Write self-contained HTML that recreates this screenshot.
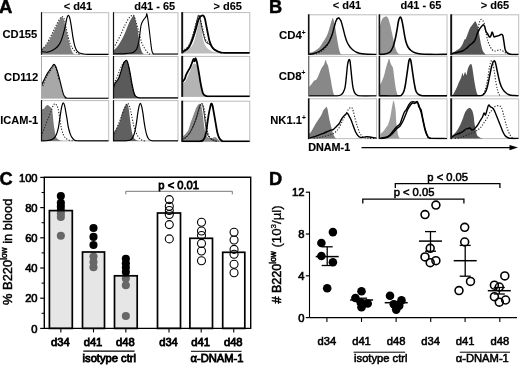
<!DOCTYPE html>
<html><head><meta charset="utf-8"><style>
html,body{margin:0;padding:0;background:#fff;width:520px;height:365px;overflow:hidden;}
svg{display:block;font-family:"Liberation Sans",sans-serif;will-change:transform;}
</style></head><body>
<svg width="520" height="365" viewBox="0 0 520 365" font-family="Liberation Sans" font-weight="bold"><clipPath id="c0"><rect x="41.50" y="12.70" width="67.20" height="42.50"/></clipPath>
<rect x="41.50" y="12.70" width="67.20" height="41.60" fill="none" stroke="#bdbdbd" stroke-width="1"/>
<g clip-path="url(#c0)">
<path d="M41.50,49.00 C42.08,48.58 43.57,48.17 45.00,46.50 C46.43,44.83 48.62,41.52 50.10,39.00 C51.58,36.48 52.65,33.92 53.90,31.40 C55.15,28.88 56.55,26.00 57.60,23.90 C58.65,21.80 59.47,19.97 60.20,18.80 C60.93,17.63 61.38,16.68 62.00,16.90 C62.62,17.12 63.27,18.32 63.90,20.10 C64.53,21.88 65.17,24.88 65.80,27.60 C66.43,30.32 67.07,33.67 67.70,36.40 C68.33,39.13 68.97,41.68 69.60,44.00 C70.23,46.32 70.87,48.72 71.50,50.30 C72.13,51.88 72.82,52.83 73.40,53.50 C73.98,54.17 74.73,54.17 75.00,54.30 L75.00,54.30 L41.50,54.30 Z" fill="#7f7f7f" stroke="none"/>
<path d="M41.50,49.50 C41.67,49.42 41.80,49.70 42.50,49.00 C43.20,48.30 44.55,46.97 45.70,45.30 C46.85,43.63 48.25,41.10 49.40,39.00 C50.55,36.90 51.55,34.80 52.60,32.70 C53.65,30.60 54.65,28.50 55.70,26.40 C56.75,24.30 57.95,21.68 58.90,20.10 C59.85,18.52 60.77,17.43 61.40,16.90 C62.03,16.37 62.17,16.37 62.70,16.90 C63.23,17.43 63.98,18.10 64.60,20.10 C65.22,22.10 65.78,25.97 66.40,28.90 C67.02,31.83 67.67,35.18 68.30,37.70 C68.93,40.22 69.57,42.32 70.20,44.00 C70.83,45.68 71.37,46.65 72.10,47.80 C72.83,48.95 73.65,49.95 74.60,50.90 C75.55,51.85 76.90,52.93 77.80,53.50 C78.70,54.07 79.63,54.17 80.00,54.30" fill="none" stroke="#222" stroke-width="1.1" stroke-dasharray="1.2,1.6"/>
<path d="M41.50,51.60 C42.52,51.70 45.75,52.42 47.60,52.20 C49.45,51.98 50.93,51.25 52.60,50.30 C54.27,49.35 56.23,47.97 57.60,46.50 C58.97,45.03 59.85,43.60 60.80,41.50 C61.75,39.40 62.57,36.42 63.30,33.90 C64.03,31.38 64.63,28.92 65.20,26.40 C65.77,23.88 66.18,20.65 66.70,18.80 C67.22,16.95 67.75,15.30 68.30,15.30 C68.85,15.30 69.47,16.75 70.00,18.80 C70.53,20.85 71.00,24.45 71.50,27.60 C72.00,30.75 72.48,34.75 73.00,37.70 C73.52,40.65 74.02,43.20 74.60,45.30 C75.18,47.40 75.77,49.05 76.50,50.30 C77.23,51.55 77.95,52.22 79.00,52.80 C80.05,53.38 81.30,53.55 82.80,53.80 C84.30,54.05 83.68,54.22 88.00,54.30 C92.32,54.38 105.25,54.30 108.70,54.30" fill="none" stroke="#000" stroke-width="1.20" stroke-linejoin="round"/>
</g>
<line x1="41.50" y1="12.20" x2="41.50" y2="54.80" stroke="#111" stroke-width="1.20"/>
<clipPath id="c8"><rect x="113.50" y="12.70" width="64.50" height="42.50"/></clipPath>
<rect x="113.50" y="12.70" width="64.50" height="41.60" fill="none" stroke="#bdbdbd" stroke-width="1"/>
<g clip-path="url(#c8)">
<path d="M113.50,50.50 C114.08,49.92 115.75,48.58 117.00,47.00 C118.25,45.42 119.67,43.33 121.00,41.00 C122.33,38.67 123.67,36.00 125.00,33.00 C126.33,30.00 127.83,25.58 129.00,23.00 C130.17,20.42 131.13,18.72 132.00,17.50 C132.87,16.28 133.52,14.85 134.20,15.70 C134.88,16.55 135.47,19.98 136.10,22.60 C136.73,25.22 137.48,28.47 138.00,31.40 C138.52,34.33 138.78,37.47 139.20,40.20 C139.62,42.93 139.97,45.70 140.50,47.80 C141.03,49.90 141.82,51.72 142.40,52.80 C142.98,53.88 143.73,54.05 144.00,54.30 L144.00,54.30 L113.50,54.30 Z" fill="#5f5f5f" stroke="none"/>
<path d="M113.50,48.00 C114.08,47.00 115.75,44.33 117.00,42.00 C118.25,39.67 119.67,36.83 121.00,34.00 C122.33,31.17 123.67,27.67 125.00,25.00 C126.33,22.33 127.83,19.58 129.00,18.00 C130.17,16.42 131.17,15.83 132.00,15.50 C132.83,15.17 133.33,14.92 134.00,16.00 C134.67,17.08 135.33,19.85 136.00,22.00 C136.67,24.15 137.35,26.50 138.00,28.90 C138.65,31.30 139.28,34.10 139.90,36.40 C140.52,38.70 140.97,40.80 141.70,42.70 C142.43,44.60 143.45,46.32 144.30,47.80 C145.15,49.28 146.07,50.65 146.80,51.60 C147.53,52.55 148.17,53.05 148.70,53.50 C149.23,53.95 149.78,54.17 150.00,54.30" fill="none" stroke="#222" stroke-width="1.1" stroke-dasharray="1.2,1.6"/>
<path d="M113.50,54.00 C115.58,53.93 123.08,53.77 126.00,53.60 C128.92,53.43 129.73,53.23 131.00,53.00 C132.27,52.77 132.65,52.87 133.60,52.20 C134.55,51.53 135.87,50.58 136.70,49.00 C137.53,47.42 138.07,45.22 138.60,42.70 C139.13,40.18 139.48,36.83 139.90,33.90 C140.32,30.97 140.58,27.30 141.10,25.10 C141.62,22.90 142.37,21.85 143.00,20.70 C143.63,19.55 144.37,18.93 144.90,18.20 C145.43,17.47 145.88,17.03 146.20,16.30 C146.52,15.57 146.50,13.17 146.80,13.80 C147.10,14.43 147.58,17.37 148.00,20.10 C148.42,22.83 148.87,26.63 149.30,30.20 C149.73,33.77 150.18,38.15 150.60,41.50 C151.02,44.85 151.38,48.30 151.80,50.30 C152.22,52.30 152.40,52.88 153.10,53.50 C153.80,54.12 151.85,53.92 156.00,54.00 C160.15,54.08 174.33,54.00 178.00,54.00" fill="none" stroke="#000" stroke-width="1.10" stroke-linejoin="round"/>
</g>
<line x1="113.50" y1="12.20" x2="113.50" y2="54.80" stroke="#111" stroke-width="1.20"/>
<clipPath id="c16"><rect x="182.20" y="12.60" width="67.60" height="41.30"/></clipPath>
<rect x="182.20" y="12.60" width="67.60" height="40.40" fill="none" stroke="#bdbdbd" stroke-width="1"/>
<g clip-path="url(#c16)">
<path d="M182.20,52.00 C182.42,51.93 182.43,52.10 183.50,51.60 C184.57,51.10 187.13,50.05 188.60,49.00 C190.07,47.95 191.25,46.97 192.30,45.30 C193.35,43.63 194.17,41.32 194.90,39.00 C195.63,36.68 196.08,33.92 196.70,31.40 C197.32,28.88 198.07,25.68 198.60,23.90 C199.13,22.12 199.47,20.28 199.90,20.70 C200.33,21.12 200.78,23.98 201.20,26.40 C201.62,28.82 201.98,32.68 202.40,35.20 C202.82,37.72 203.17,39.72 203.70,41.50 C204.23,43.28 204.87,44.65 205.60,45.90 C206.33,47.15 207.17,48.17 208.10,49.00 C209.03,49.83 210.05,50.37 211.20,50.90 C212.35,51.43 213.87,51.85 215.00,52.20 C216.13,52.55 217.50,52.87 218.00,53.00 L218.00,53.00 L182.20,53.00 Z" fill="#bdbdbd" stroke="none"/>
<path d="M182.20,51.50 C182.42,51.40 182.43,51.73 183.50,50.90 C184.57,50.07 187.13,48.70 188.60,46.50 C190.07,44.30 191.25,40.63 192.30,37.70 C193.35,34.77 194.05,32.05 194.90,28.90 C195.75,25.75 196.78,21.12 197.40,18.80 C198.02,16.48 198.18,15.20 198.60,15.00 C199.02,14.80 199.37,15.50 199.90,17.60 C200.43,19.70 201.17,24.67 201.80,27.60 C202.43,30.53 203.07,32.88 203.70,35.20 C204.33,37.52 204.98,40.13 205.60,41.50 C206.22,42.87 206.78,42.98 207.40,43.40 C208.02,43.82 208.55,43.37 209.30,44.00 C210.05,44.63 210.95,46.15 211.90,47.20 C212.85,48.25 213.85,49.47 215.00,50.30 C216.15,51.13 217.63,51.75 218.80,52.20 C219.97,52.65 221.47,52.87 222.00,53.00" fill="none" stroke="#222" stroke-width="1" stroke-linejoin="round"/>
<path d="M182.20,51.00 C182.50,50.83 182.87,51.00 184.00,50.00 C185.13,49.00 187.67,47.00 189.00,45.00 C190.33,43.00 191.08,40.67 192.00,38.00 C192.92,35.33 193.67,32.00 194.50,29.00 C195.33,26.00 196.37,22.08 197.00,20.00 C197.63,17.92 197.83,17.00 198.30,16.50 C198.77,16.00 199.27,15.75 199.80,17.00 C200.33,18.25 200.88,21.50 201.50,24.00 C202.12,26.50 202.83,29.42 203.50,32.00 C204.17,34.58 204.75,37.75 205.50,39.50 C206.25,41.25 207.08,41.50 208.00,42.50 C208.92,43.50 210.00,44.42 211.00,45.50 C212.00,46.58 212.92,48.00 214.00,49.00 C215.08,50.00 216.33,50.83 217.50,51.50 C218.67,52.17 220.42,52.75 221.00,53.00" fill="none" stroke="#222" stroke-width="1.1" stroke-dasharray="1.2,1.6"/>
<path d="M182.20,52.00 C182.42,51.93 182.43,52.30 183.50,51.60 C184.57,50.90 187.13,49.70 188.60,47.80 C190.07,45.90 191.15,43.13 192.30,40.20 C193.45,37.27 194.55,33.35 195.50,30.20 C196.45,27.05 197.27,23.52 198.00,21.30 C198.73,19.08 199.27,17.83 199.90,16.90 C200.53,15.97 201.22,15.90 201.80,15.70 C202.38,15.50 202.88,15.18 203.40,15.70 C203.92,16.22 204.43,17.23 204.90,18.80 C205.37,20.37 205.73,22.78 206.20,25.10 C206.67,27.42 207.18,30.18 207.70,32.70 C208.22,35.22 208.72,38.10 209.30,40.20 C209.88,42.30 210.47,43.83 211.20,45.30 C211.93,46.77 212.75,48.07 213.70,49.00 C214.65,49.93 215.85,50.37 216.90,50.90 C217.95,51.43 218.82,51.88 220.00,52.20 C221.18,52.52 219.03,52.70 224.00,52.80 C228.97,52.90 245.50,52.80 249.80,52.80" fill="none" stroke="#000" stroke-width="1.80" stroke-linejoin="round"/>
</g>
<line x1="182.20" y1="12.10" x2="182.20" y2="53.50" stroke="#111" stroke-width="1.90"/>
<clipPath id="c25"><rect x="41.50" y="56.50" width="67.20" height="42.60"/></clipPath>
<rect x="41.50" y="56.50" width="67.20" height="41.70" fill="none" stroke="#bdbdbd" stroke-width="1"/>
<g clip-path="url(#c25)">
<path d="M41.50,86.00 C41.75,85.33 42.42,83.33 43.00,82.00 C43.58,80.67 44.33,79.33 45.00,78.00 C45.67,76.67 46.33,75.17 47.00,74.00 C47.67,72.83 48.33,72.00 49.00,71.00 C49.67,70.00 50.42,68.83 51.00,68.00 C51.58,67.17 52.00,66.60 52.50,66.00 C53.00,65.40 53.50,64.40 54.00,64.40 C54.50,64.40 55.00,65.07 55.50,66.00 C56.00,66.93 56.42,68.17 57.00,70.00 C57.58,71.83 58.33,74.50 59.00,77.00 C59.67,79.50 60.42,82.67 61.00,85.00 C61.58,87.33 62.00,89.25 62.50,91.00 C63.00,92.75 63.42,94.42 64.00,95.50 C64.58,96.58 65.33,97.05 66.00,97.50 C66.67,97.95 67.67,98.08 68.00,98.20 L68.00,98.20 L41.50,98.20 Z" fill="#a8a8a8" stroke="none"/>
<path d="M43.00,86.00 C43.33,85.00 44.33,81.67 45.00,80.00 C45.67,78.33 46.33,77.17 47.00,76.00 C47.67,74.83 48.33,74.00 49.00,73.00 C49.67,72.00 50.33,71.00 51.00,70.00 C51.67,69.00 52.33,67.67 53.00,67.00 C53.67,66.33 54.33,65.17 55.00,66.00 C55.67,66.83 56.33,69.67 57.00,72.00 C57.67,74.33 58.67,78.67 59.00,80.00" fill="none" stroke="#222" stroke-width="1.1" stroke-dasharray="1.2,1.6"/>
<path d="M41.50,86.00 C41.75,85.33 42.42,83.33 43.00,82.00 C43.58,80.67 44.33,79.33 45.00,78.00 C45.67,76.67 46.33,75.17 47.00,74.00 C47.67,72.83 48.33,72.00 49.00,71.00 C49.67,70.00 50.42,68.83 51.00,68.00 C51.58,67.17 52.00,66.60 52.50,66.00 C53.00,65.40 53.50,64.40 54.00,64.40 C54.50,64.40 55.00,65.07 55.50,66.00 C56.00,66.93 56.42,68.17 57.00,70.00 C57.58,71.83 58.33,74.50 59.00,77.00 C59.67,79.50 60.42,82.67 61.00,85.00 C61.58,87.33 62.00,89.25 62.50,91.00 C63.00,92.75 63.42,94.42 64.00,95.50 C64.58,96.58 65.17,97.05 66.00,97.50 C66.83,97.95 61.88,98.08 69.00,98.20 C76.12,98.32 102.08,98.20 108.70,98.20" fill="none" stroke="#000" stroke-width="1.10" stroke-linejoin="round"/>
</g>
<line x1="41.50" y1="56.00" x2="41.50" y2="98.70" stroke="#aaa" stroke-width="1.00"/>
<clipPath id="c33"><rect x="113.50" y="56.50" width="64.50" height="42.60"/></clipPath>
<rect x="113.50" y="56.50" width="64.50" height="41.70" fill="none" stroke="#bdbdbd" stroke-width="1"/>
<g clip-path="url(#c33)">
<path d="M113.50,87.50 C113.77,86.80 114.52,84.42 115.10,83.30 C115.68,82.18 116.37,81.73 117.00,80.80 C117.63,79.87 118.37,78.85 118.90,77.70 C119.43,76.55 119.78,75.17 120.20,73.90 C120.62,72.63 120.98,71.47 121.40,70.10 C121.82,68.73 122.27,66.95 122.70,65.70 C123.13,64.45 123.58,63.33 124.00,62.60 C124.42,61.87 124.78,61.68 125.20,61.30 C125.62,60.92 126.08,60.08 126.50,60.30 C126.92,60.52 127.28,61.38 127.70,62.60 C128.12,63.82 128.57,65.72 129.00,67.60 C129.43,69.48 129.88,71.60 130.30,73.90 C130.72,76.20 131.08,79.10 131.50,81.40 C131.92,83.70 132.38,85.80 132.80,87.70 C133.22,89.60 133.58,91.43 134.00,92.80 C134.42,94.17 134.77,95.17 135.30,95.90 C135.83,96.63 136.47,96.88 137.20,97.20 C137.93,97.52 139.28,97.70 139.70,97.80 L139.70,98.20 L113.50,98.20 Z" fill="#5a5a5a" stroke="none"/>
<path d="M113.50,83.00 C113.67,82.85 114.02,82.78 114.50,82.10 C114.98,81.42 115.77,80.27 116.40,78.90 C117.03,77.53 117.67,75.57 118.30,73.90 C118.93,72.23 119.57,70.37 120.20,68.90 C120.83,67.43 121.47,66.27 122.10,65.10 C122.73,63.93 123.37,62.63 124.00,61.90 C124.63,61.17 125.40,60.77 125.90,60.70 C126.40,60.63 126.58,60.77 127.00,61.50 C127.42,62.23 127.97,63.25 128.40,65.10 C128.83,66.95 129.18,70.08 129.60,72.60 C130.02,75.12 130.47,77.68 130.90,80.20 C131.33,82.72 131.78,85.60 132.20,87.70 C132.62,89.80 132.93,91.42 133.40,92.80 C133.87,94.18 134.73,95.47 135.00,96.00" fill="none" stroke="#222" stroke-width="1.1" stroke-dasharray="1.2,1.6"/>
<path d="M113.50,87.50 C113.77,86.80 114.52,84.42 115.10,83.30 C115.68,82.18 116.37,81.73 117.00,80.80 C117.63,79.87 118.37,78.85 118.90,77.70 C119.43,76.55 119.78,75.17 120.20,73.90 C120.62,72.63 120.98,71.47 121.40,70.10 C121.82,68.73 122.27,66.95 122.70,65.70 C123.13,64.45 123.58,63.33 124.00,62.60 C124.42,61.87 124.78,61.68 125.20,61.30 C125.62,60.92 126.08,60.08 126.50,60.30 C126.92,60.52 127.28,61.38 127.70,62.60 C128.12,63.82 128.57,65.72 129.00,67.60 C129.43,69.48 129.88,71.60 130.30,73.90 C130.72,76.20 131.08,79.10 131.50,81.40 C131.92,83.70 132.38,85.80 132.80,87.70 C133.22,89.60 133.58,91.43 134.00,92.80 C134.42,94.17 134.77,95.17 135.30,95.90 C135.83,96.63 136.47,96.88 137.20,97.20 C137.93,97.52 138.40,97.68 139.70,97.80 C141.00,97.92 138.62,97.88 145.00,97.90 C151.38,97.92 172.50,97.90 178.00,97.90" fill="none" stroke="#000" stroke-width="1.20" stroke-linejoin="round"/>
</g>
<line x1="113.50" y1="56.00" x2="113.50" y2="98.70" stroke="#111" stroke-width="1.20"/>
<clipPath id="c41"><rect x="182.20" y="56.40" width="67.60" height="40.90"/></clipPath>
<rect x="182.20" y="56.40" width="67.60" height="40.00" fill="none" stroke="#bdbdbd" stroke-width="1"/>
<g clip-path="url(#c41)">
<path d="M182.20,84.00 C182.50,83.75 183.37,83.13 184.00,82.50 C184.63,81.87 185.03,82.05 186.00,80.20 C186.97,78.35 188.63,74.03 189.80,71.40 C190.97,68.77 192.15,65.67 193.00,64.40 C193.85,63.13 194.28,63.68 194.90,63.80 C195.52,63.92 196.18,64.47 196.70,65.10 C197.22,65.73 197.57,65.92 198.00,67.60 C198.43,69.28 198.88,72.68 199.30,75.20 C199.72,77.72 200.08,80.40 200.50,82.70 C200.92,85.00 201.38,87.22 201.80,89.00 C202.22,90.78 202.48,92.30 203.00,93.40 C203.52,94.50 204.17,95.10 204.90,95.60 C205.63,96.10 206.98,96.27 207.40,96.40 L207.40,96.40 L182.20,96.40 Z" fill="#b4b4b4" stroke="none"/>
<path d="M182.20,82.00 C182.32,81.90 182.47,81.92 182.90,81.40 C183.33,80.88 184.28,79.93 184.80,78.90 C185.32,77.87 185.48,76.45 186.00,75.20 C186.52,73.95 187.27,72.57 187.90,71.40 C188.53,70.23 189.27,69.25 189.80,68.20 C190.33,67.15 190.63,66.25 191.10,65.10 C191.57,63.95 192.18,62.35 192.60,61.30 C193.02,60.25 193.27,58.80 193.60,58.80 C193.93,58.80 194.28,61.42 194.60,61.30 C194.92,61.18 195.15,58.10 195.50,58.10 C195.85,58.10 196.28,59.72 196.70,61.30 C197.12,62.88 197.57,65.28 198.00,67.60 C198.43,69.92 198.88,72.68 199.30,75.20 C199.72,77.72 200.08,80.40 200.50,82.70 C200.92,85.00 201.38,87.22 201.80,89.00 C202.22,90.78 202.48,92.30 203.00,93.40 C203.52,94.50 204.17,95.12 204.90,95.60 C205.63,96.08 206.22,96.17 207.40,96.30 C208.58,96.43 204.93,96.38 212.00,96.40 C219.07,96.42 243.50,96.40 249.80,96.40" fill="none" stroke="#000" stroke-width="1.80" stroke-linejoin="round"/>
</g>
<line x1="182.20" y1="55.90" x2="182.20" y2="96.90" stroke="#111" stroke-width="1.90"/>
<clipPath id="c48"><rect x="41.50" y="100.60" width="67.20" height="41.20"/></clipPath>
<rect x="41.50" y="100.60" width="67.20" height="40.30" fill="none" stroke="#bdbdbd" stroke-width="1"/>
<g clip-path="url(#c48)">
<path d="M41.50,109.50 C41.88,109.37 43.10,109.25 43.80,108.70 C44.50,108.15 45.07,106.83 45.70,106.20 C46.33,105.57 46.98,104.90 47.60,104.90 C48.22,104.90 48.78,105.67 49.40,106.20 C50.02,106.73 50.82,107.37 51.30,108.10 C51.78,108.83 52.02,109.13 52.30,110.60 C52.58,112.07 52.78,114.80 53.00,116.90 C53.22,119.00 53.35,121.10 53.60,123.20 C53.85,125.30 54.20,127.62 54.50,129.50 C54.80,131.38 55.08,133.13 55.40,134.50 C55.72,135.87 55.92,136.85 56.40,137.70 C56.88,138.55 57.67,139.12 58.30,139.60 C58.93,140.08 59.58,140.38 60.20,140.60 C60.82,140.82 61.70,140.85 62.00,140.90 L62.00,140.90 L41.50,140.90 Z" fill="#7a7a7a" stroke="none"/>
<path d="M41.50,136.00 C41.57,135.75 41.52,135.58 41.90,134.50 C42.28,133.42 43.07,131.38 43.80,129.50 C44.53,127.62 45.47,125.30 46.30,123.20 C47.13,121.10 47.97,119.00 48.80,116.90 C49.63,114.80 50.57,112.48 51.30,110.60 C52.03,108.72 52.60,106.75 53.20,105.60 C53.80,104.45 54.37,103.82 54.90,103.70 C55.43,103.58 55.90,104.17 56.40,104.90 C56.90,105.63 57.48,106.73 57.90,108.10 C58.32,109.47 58.52,111.00 58.90,113.10 C59.28,115.20 59.78,118.18 60.20,120.70 C60.62,123.22 60.88,125.90 61.40,128.20 C61.92,130.50 62.57,132.82 63.30,134.50 C64.03,136.18 64.85,137.35 65.80,138.30 C66.75,139.25 67.85,139.77 69.00,140.20 C70.15,140.63 72.08,140.78 72.70,140.90" fill="none" stroke="#222" stroke-width="1.1" stroke-dasharray="1.2,1.6"/>
<path d="M41.50,140.90 C42.08,140.88 43.57,140.92 45.00,140.80 C46.43,140.68 48.62,140.62 50.10,140.20 C51.58,139.78 52.85,139.25 53.90,138.30 C54.95,137.35 55.67,136.18 56.40,134.50 C57.13,132.82 57.78,130.50 58.30,128.20 C58.82,125.90 59.08,123.42 59.50,120.70 C59.92,117.98 60.38,114.42 60.80,111.90 C61.22,109.38 61.58,107.12 62.00,105.60 C62.42,104.08 62.87,102.80 63.30,102.80 C63.73,102.80 64.18,104.08 64.60,105.60 C65.02,107.12 65.38,109.60 65.80,111.90 C66.22,114.20 66.68,116.88 67.10,119.40 C67.52,121.92 67.78,124.58 68.30,127.00 C68.82,129.42 69.57,132.12 70.20,133.90 C70.83,135.68 71.37,136.65 72.10,137.70 C72.83,138.75 73.65,139.68 74.60,140.20 C75.55,140.72 76.57,140.68 77.80,140.80 C79.03,140.92 76.85,140.88 82.00,140.90 C87.15,140.92 104.25,140.90 108.70,140.90" fill="none" stroke="#000" stroke-width="1.20" stroke-linejoin="round"/>
</g>
<line x1="41.50" y1="100.10" x2="41.50" y2="141.40" stroke="#111" stroke-width="1.20"/>
<clipPath id="c56"><rect x="113.50" y="100.60" width="64.50" height="41.20"/></clipPath>
<rect x="113.50" y="100.60" width="64.50" height="40.30" fill="none" stroke="#bdbdbd" stroke-width="1"/>
<g clip-path="url(#c56)">
<path d="M113.50,132.50 C113.88,132.00 115.00,130.73 115.80,129.50 C116.60,128.27 117.57,126.68 118.30,125.10 C119.03,123.52 119.57,122.00 120.20,120.00 C120.83,118.00 121.47,115.08 122.10,113.10 C122.73,111.12 123.42,109.47 124.00,108.10 C124.58,106.73 125.12,105.63 125.60,104.90 C126.08,104.17 126.48,103.58 126.90,103.70 C127.32,103.82 127.75,104.45 128.10,105.60 C128.45,106.75 128.70,108.50 129.00,110.60 C129.30,112.70 129.58,115.68 129.90,118.20 C130.22,120.72 130.57,123.40 130.90,125.70 C131.23,128.00 131.52,130.22 131.90,132.00 C132.28,133.78 132.73,135.25 133.20,136.40 C133.67,137.55 134.03,138.20 134.70,138.90 C135.37,139.60 136.48,140.27 137.20,140.60 C137.92,140.93 138.70,140.85 139.00,140.90 L139.00,140.90 L113.50,140.90 Z" fill="#606060" stroke="none"/>
<path d="M113.50,136.50 C113.57,136.38 113.52,136.77 113.90,135.80 C114.28,134.83 115.07,132.60 115.80,130.70 C116.53,128.80 117.47,126.48 118.30,124.40 C119.13,122.32 120.07,120.08 120.80,118.20 C121.53,116.32 122.07,114.78 122.70,113.10 C123.33,111.42 123.97,109.57 124.60,108.10 C125.23,106.63 125.92,105.03 126.50,104.30 C127.08,103.57 127.58,103.28 128.10,103.70 C128.62,104.12 129.13,105.43 129.60,106.80 C130.07,108.17 130.47,110.00 130.90,111.90 C131.33,113.80 131.78,116.12 132.20,118.20 C132.62,120.28 132.95,122.52 133.40,124.40 C133.85,126.28 134.37,127.92 134.90,129.50 C135.43,131.08 136.02,132.65 136.60,133.90 C137.18,135.15 137.67,136.05 138.40,137.00 C139.13,137.95 140.15,138.97 141.00,139.60 C141.85,140.23 142.67,140.58 143.50,140.80 C144.33,141.02 145.58,140.88 146.00,140.90" fill="none" stroke="#222" stroke-width="1.1" stroke-dasharray="1.2,1.6"/>
<path d="M113.50,140.90 C115.57,140.88 123.22,140.92 125.90,140.80 C128.58,140.68 128.55,140.62 129.60,140.20 C130.65,139.78 131.47,139.25 132.20,138.30 C132.93,137.35 133.48,135.97 134.00,134.50 C134.52,133.03 134.87,131.60 135.30,129.50 C135.73,127.40 136.18,124.63 136.60,121.90 C137.02,119.17 137.38,115.72 137.80,113.10 C138.22,110.48 138.68,107.83 139.10,106.20 C139.52,104.57 139.88,103.30 140.30,103.30 C140.72,103.30 141.17,104.57 141.60,106.20 C142.03,107.83 142.48,110.48 142.90,113.10 C143.32,115.72 143.68,119.17 144.10,121.90 C144.52,124.63 144.92,127.18 145.40,129.50 C145.88,131.82 146.37,134.12 147.00,135.80 C147.63,137.48 148.32,138.77 149.20,139.60 C150.08,140.43 151.17,140.58 152.30,140.80 C153.43,141.02 151.72,140.88 156.00,140.90 C160.28,140.92 174.33,140.90 178.00,140.90" fill="none" stroke="#000" stroke-width="1.20" stroke-linejoin="round"/>
</g>
<line x1="113.50" y1="100.10" x2="113.50" y2="141.40" stroke="#111" stroke-width="1.20"/>
<clipPath id="c64"><rect x="182.20" y="101.20" width="67.60" height="41.10"/></clipPath>
<rect x="182.20" y="101.20" width="67.60" height="40.20" fill="none" stroke="#bdbdbd" stroke-width="1"/>
<g clip-path="url(#c64)">
<path d="M182.20,136.50 C182.42,136.38 182.87,136.33 183.50,135.80 C184.13,135.27 185.15,134.35 186.00,133.30 C186.85,132.25 187.87,131.18 188.60,129.50 C189.33,127.82 189.78,125.08 190.40,123.20 C191.02,121.32 191.67,119.88 192.30,118.20 C192.93,116.52 193.57,114.78 194.20,113.10 C194.83,111.42 195.47,109.47 196.10,108.10 C196.73,106.73 197.37,105.63 198.00,104.90 C198.63,104.17 199.37,103.58 199.90,103.70 C200.43,103.82 200.78,104.23 201.20,105.60 C201.62,106.97 202.03,109.60 202.40,111.90 C202.77,114.20 203.08,116.88 203.40,119.40 C203.72,121.92 203.93,124.68 204.30,127.00 C204.67,129.32 205.08,131.63 205.60,133.30 C206.12,134.97 206.67,136.17 207.40,137.00 C208.13,137.83 209.05,138.18 210.00,138.30 C210.95,138.42 212.27,137.92 213.10,137.70 C213.93,137.48 214.37,136.90 215.00,137.00 C215.63,137.10 216.27,137.77 216.90,138.30 C217.53,138.83 218.07,139.73 218.80,140.20 C219.53,140.67 220.60,140.90 221.30,141.10 C222.00,141.30 222.72,141.35 223.00,141.40 L223.00,141.40 L182.20,141.40 Z" fill="#8a8a8a" stroke="none"/>
<path d="M182.20,139.50 C182.42,139.40 182.43,139.73 183.50,138.90 C184.57,138.07 187.13,136.28 188.60,134.50 C190.07,132.72 191.15,130.50 192.30,128.20 C193.45,125.90 194.55,123.42 195.50,120.70 C196.45,117.98 197.27,114.42 198.00,111.90 C198.73,109.38 199.33,106.97 199.90,105.60 C200.47,104.23 200.93,103.70 201.40,103.70 C201.87,103.70 202.28,104.23 202.70,105.60 C203.12,106.97 203.53,109.60 203.90,111.90 C204.27,114.20 204.57,116.88 204.90,119.40 C205.23,121.92 205.58,124.90 205.90,127.00 C206.22,129.10 206.43,130.53 206.80,132.00 C207.17,133.47 207.47,134.65 208.10,135.80 C208.73,136.95 209.67,138.10 210.60,138.90 C211.53,139.70 212.63,140.18 213.70,140.60 C214.77,141.02 216.45,141.27 217.00,141.40" fill="none" stroke="#222" stroke-width="1" stroke-linejoin="round"/>
<path d="M182.20,140.00 C182.83,139.58 184.70,138.75 186.00,137.50 C187.30,136.25 188.75,134.50 190.00,132.50 C191.25,130.50 192.42,128.00 193.50,125.50 C194.58,123.00 195.58,120.08 196.50,117.50 C197.42,114.92 198.28,112.00 199.00,110.00 C199.72,108.00 200.27,106.55 200.80,105.50 C201.33,104.45 201.75,103.62 202.20,103.70 C202.65,103.78 203.07,104.53 203.50,106.00 C203.93,107.47 204.42,110.17 204.80,112.50 C205.18,114.83 205.47,117.50 205.80,120.00 C206.13,122.50 206.47,125.42 206.80,127.50 C207.13,129.58 207.35,131.00 207.80,132.50 C208.25,134.00 208.80,135.38 209.50,136.50 C210.20,137.62 211.00,138.48 212.00,139.20 C213.00,139.92 214.33,140.43 215.50,140.80 C216.67,141.17 218.42,141.30 219.00,141.40" fill="none" stroke="#222" stroke-width="1.1" stroke-dasharray="1.2,1.6"/>
<path d="M182.20,141.40 C184.33,141.40 192.05,141.40 195.00,141.40 C197.95,141.40 198.57,141.60 199.90,141.40 C201.23,141.20 202.17,140.93 203.00,140.20 C203.83,139.47 204.37,138.37 204.90,137.00 C205.43,135.63 205.78,134.30 206.20,132.00 C206.62,129.70 206.98,126.13 207.40,123.20 C207.82,120.27 208.27,116.92 208.70,114.40 C209.13,111.88 209.58,109.88 210.00,108.10 C210.42,106.32 210.78,104.12 211.20,103.70 C211.62,103.28 212.08,104.23 212.50,105.60 C212.92,106.97 213.28,109.60 213.70,111.90 C214.12,114.20 214.57,116.88 215.00,119.40 C215.43,121.92 215.88,124.68 216.30,127.00 C216.72,129.32 216.98,131.42 217.50,133.30 C218.02,135.18 218.67,137.05 219.40,138.30 C220.13,139.55 220.95,140.28 221.90,140.80 C222.85,141.32 220.45,141.30 225.10,141.40 C229.75,141.50 245.68,141.40 249.80,141.40" fill="none" stroke="#000" stroke-width="1.80" stroke-linejoin="round"/>
</g>
<line x1="182.20" y1="100.70" x2="182.20" y2="141.90" stroke="#111" stroke-width="1.90"/>
<clipPath id="c73"><rect x="308.70" y="14.80" width="67.90" height="40.60"/></clipPath>
<rect x="308.70" y="14.80" width="67.90" height="39.70" fill="none" stroke="#bdbdbd" stroke-width="1"/>
<g clip-path="url(#c73)">
<path d="M308.70,53.30 C308.83,53.25 308.52,53.37 309.50,53.00 C310.48,52.63 312.92,52.05 314.60,51.10 C316.28,50.15 318.23,48.77 319.60,47.30 C320.97,45.83 321.85,43.77 322.80,42.30 C323.75,40.83 324.47,39.98 325.30,38.50 C326.13,37.02 327.07,35.30 327.80,33.40 C328.53,31.50 329.07,29.20 329.70,27.10 C330.33,25.00 331.07,22.30 331.60,20.80 C332.13,19.30 332.48,17.88 332.90,18.10 C333.32,18.32 333.68,20.38 334.10,22.10 C334.52,23.82 334.98,26.08 335.40,28.40 C335.82,30.72 336.18,33.48 336.60,36.00 C337.02,38.52 337.47,41.20 337.90,43.50 C338.33,45.80 338.78,48.12 339.20,49.80 C339.62,51.48 339.93,52.82 340.40,53.60 C340.87,54.38 341.73,54.35 342.00,54.50 L342.00,54.50 L308.70,54.50 Z" fill="#888888" stroke="none"/>
<path d="M316.00,54.00 C317.00,53.50 320.17,52.33 322.00,51.00 C323.83,49.67 325.67,47.83 327.00,46.00 C328.33,44.17 329.00,42.50 330.00,40.00 C331.00,37.50 332.17,33.83 333.00,31.00 C333.83,28.17 334.33,25.08 335.00,23.00 C335.67,20.92 336.33,19.33 337.00,18.50 C337.67,17.67 338.33,17.58 339.00,18.00 C339.67,18.42 340.67,20.50 341.00,21.00" fill="none" stroke="#222" stroke-width="1.1" stroke-dasharray="1.2,1.6"/>
<path d="M308.70,54.40 C309.58,54.25 312.12,54.07 314.00,53.50 C315.88,52.93 318.17,52.08 320.00,51.00 C321.83,49.92 323.50,48.50 325.00,47.00 C326.50,45.50 327.83,44.00 329.00,42.00 C330.17,40.00 331.17,37.33 332.00,35.00 C332.83,32.67 333.33,30.33 334.00,28.00 C334.67,25.67 335.33,22.63 336.00,21.00 C336.67,19.37 337.42,18.60 338.00,18.20 C338.58,17.80 339.00,18.13 339.50,18.60 C340.00,19.07 340.42,19.43 341.00,21.00 C341.58,22.57 342.33,25.50 343.00,28.00 C343.67,30.50 344.33,33.67 345.00,36.00 C345.67,38.33 346.17,40.17 347.00,42.00 C347.83,43.83 349.00,45.67 350.00,47.00 C351.00,48.33 351.83,49.08 353.00,50.00 C354.17,50.92 355.50,51.87 357.00,52.50 C358.50,53.13 360.17,53.50 362.00,53.80 C363.83,54.10 365.57,54.20 368.00,54.30 C370.43,54.40 375.17,54.38 376.60,54.40" fill="none" stroke="#000" stroke-width="1.40" stroke-linejoin="round"/>
</g>
<line x1="308.70" y1="14.30" x2="308.70" y2="55.00" stroke="#111" stroke-width="1.60"/>
<clipPath id="c81"><rect x="379.40" y="14.80" width="67.60" height="40.60"/></clipPath>
<rect x="379.40" y="14.80" width="67.60" height="39.70" fill="none" stroke="#bdbdbd" stroke-width="1"/>
<g clip-path="url(#c81)">
<path d="M379.40,29.00 C379.67,27.83 380.40,23.83 381.00,22.00 C381.60,20.17 382.17,18.93 383.00,18.00 C383.83,17.07 385.17,16.40 386.00,16.40 C386.83,16.40 387.33,16.73 388.00,18.00 C388.67,19.27 389.33,21.50 390.00,24.00 C390.67,26.50 391.33,30.00 392.00,33.00 C392.67,36.00 393.42,39.50 394.00,42.00 C394.58,44.50 395.00,46.33 395.50,48.00 C396.00,49.67 396.42,51.00 397.00,52.00 C397.58,53.00 398.33,53.58 399.00,54.00 C399.67,54.42 400.67,54.42 401.00,54.50 L401.00,54.50 L379.40,54.50 Z" fill="#959595" stroke="none"/>
<path d="M379.40,54.40 C380.33,54.33 383.23,54.40 385.00,54.00 C386.77,53.60 388.67,53.17 390.00,52.00 C391.33,50.83 392.17,49.00 393.00,47.00 C393.83,45.00 394.33,42.83 395.00,40.00 C395.67,37.17 396.42,33.17 397.00,30.00 C397.58,26.83 397.98,23.15 398.50,21.00 C399.02,18.85 399.60,17.43 400.10,17.10 C400.60,16.77 401.02,17.52 401.50,19.00 C401.98,20.48 402.50,23.33 403.00,26.00 C403.50,28.67 404.00,32.33 404.50,35.00 C405.00,37.67 405.42,40.00 406.00,42.00 C406.58,44.00 407.17,45.58 408.00,47.00 C408.83,48.42 409.83,49.53 411.00,50.50 C412.17,51.47 413.33,52.22 415.00,52.80 C416.67,53.38 418.50,53.73 421.00,54.00 C423.50,54.27 425.67,54.33 430.00,54.40 C434.33,54.47 444.17,54.40 447.00,54.40" fill="none" stroke="#000" stroke-width="1.60" stroke-linejoin="round"/>
</g>
<line x1="379.40" y1="14.30" x2="379.40" y2="55.00" stroke="#111" stroke-width="1.60"/>
<clipPath id="c88"><rect x="451.20" y="14.80" width="67.50" height="40.60"/></clipPath>
<rect x="451.20" y="14.80" width="67.50" height="39.70" fill="none" stroke="#bdbdbd" stroke-width="1"/>
<g clip-path="url(#c88)">
<path d="M451.20,53.50 C451.40,53.42 451.65,53.42 452.40,53.00 C453.15,52.58 454.47,51.78 455.70,51.00 C456.93,50.22 458.67,49.42 459.80,48.30 C460.93,47.18 461.72,45.75 462.50,44.30 C463.28,42.85 463.95,40.50 464.50,39.60 C465.05,38.70 465.25,39.92 465.80,38.90 C466.35,37.88 467.12,35.28 467.80,33.50 C468.48,31.72 469.22,29.53 469.90,28.20 C470.58,26.87 471.23,26.40 471.90,25.50 C472.57,24.60 473.35,23.52 473.90,22.80 C474.45,22.08 474.75,21.10 475.20,21.20 C475.65,21.30 476.15,22.47 476.60,23.40 C477.05,24.33 477.52,25.33 477.90,26.80 C478.28,28.27 478.55,30.18 478.90,32.20 C479.25,34.22 479.60,36.67 480.00,38.90 C480.40,41.13 480.87,43.68 481.30,45.60 C481.73,47.52 482.10,49.17 482.60,50.40 C483.10,51.63 483.73,52.32 484.30,53.00 C484.87,53.68 485.72,54.25 486.00,54.50 L486.00,54.50 L451.20,54.50 Z" fill="#555555" stroke="none"/>
<path d="M477.30,33.50 C477.50,32.42 478.17,28.78 478.50,27.00 C478.83,25.22 479.00,23.93 479.30,22.80 C479.60,21.67 479.97,20.77 480.30,20.20 C480.63,19.63 480.93,19.38 481.30,19.40 C481.67,19.42 482.05,19.73 482.50,20.30 C482.95,20.87 483.53,21.27 484.00,22.80 C484.47,24.33 484.85,27.27 485.30,29.50 C485.75,31.73 486.25,34.18 486.70,36.20 C487.15,38.22 487.45,39.92 488.00,41.60 C488.55,43.28 489.32,44.95 490.00,46.30 C490.68,47.65 491.30,48.92 492.10,49.70 C492.90,50.48 493.90,50.88 494.80,51.00 C495.70,51.12 496.62,50.62 497.50,50.40 C498.38,50.18 499.22,49.60 500.10,49.70 C500.98,49.80 501.90,50.45 502.80,51.00 C503.70,51.55 504.60,52.55 505.50,53.00 C506.40,53.45 507.28,53.47 508.20,53.70 C509.12,53.93 510.53,54.28 511.00,54.40" fill="none" stroke="#222" stroke-width="1.1" stroke-dasharray="1.2,1.6"/>
<path d="M451.20,54.00 C451.28,53.95 450.72,53.97 451.70,53.70 C452.68,53.43 455.30,52.85 457.10,52.40 C458.90,51.95 460.93,51.68 462.50,51.00 C464.07,50.32 465.27,49.30 466.50,48.30 C467.73,47.30 468.88,45.88 469.90,45.00 C470.92,44.12 471.72,43.90 472.60,43.00 C473.48,42.10 474.42,41.18 475.20,39.60 C475.98,38.02 476.62,35.18 477.30,33.50 C477.98,31.82 478.63,30.62 479.30,29.50 C479.97,28.38 480.63,27.58 481.30,26.80 C481.97,26.02 482.73,24.80 483.30,24.80 C483.87,24.80 484.25,25.68 484.70,26.80 C485.15,27.92 485.55,30.38 486.00,31.50 C486.45,32.62 486.83,32.60 487.40,33.50 C487.97,34.40 488.85,36.45 489.40,36.90 C489.95,37.35 490.25,36.98 490.70,36.20 C491.15,35.42 491.70,32.53 492.10,32.20 C492.50,31.87 492.77,33.42 493.10,34.20 C493.43,34.98 493.60,36.57 494.10,36.90 C494.60,37.23 495.32,36.42 496.10,36.20 C496.88,35.98 497.90,35.93 498.80,35.60 C499.70,35.27 500.83,34.20 501.50,34.20 C502.17,34.20 502.40,34.37 502.80,35.60 C503.20,36.83 503.55,39.48 503.90,41.60 C504.25,43.72 504.52,46.62 504.90,48.30 C505.28,49.98 505.53,50.80 506.20,51.70 C506.87,52.60 507.88,53.25 508.90,53.70 C509.92,54.15 510.67,54.27 512.30,54.40 C513.93,54.53 517.63,54.48 518.70,54.50" fill="none" stroke="#000" stroke-width="1.50" stroke-linejoin="round"/>
</g>
<line x1="451.20" y1="14.30" x2="451.20" y2="55.00" stroke="#111" stroke-width="1.90"/>
<clipPath id="c96"><rect x="308.70" y="56.30" width="67.90" height="40.50"/></clipPath>
<rect x="308.70" y="56.30" width="67.90" height="39.60" fill="none" stroke="#bdbdbd" stroke-width="1"/>
<g clip-path="url(#c96)">
<path d="M308.70,87.00 C308.82,86.92 308.78,87.18 309.40,86.50 C310.02,85.82 311.60,83.90 312.40,82.90 C313.20,81.90 313.60,81.00 314.20,80.50 C314.80,80.00 315.40,80.50 316.00,79.90 C316.60,79.30 317.08,78.40 317.80,76.90 C318.52,75.40 319.58,72.50 320.30,70.90 C321.02,69.30 321.50,68.32 322.10,67.30 C322.70,66.28 323.40,65.82 323.90,64.80 C324.40,63.78 324.77,62.00 325.10,61.20 C325.43,60.40 325.60,59.60 325.90,60.00 C326.20,60.40 326.53,62.60 326.90,63.60 C327.27,64.60 327.70,64.58 328.10,66.00 C328.50,67.42 328.90,70.08 329.30,72.10 C329.70,74.12 330.10,75.90 330.50,78.10 C330.90,80.30 331.30,83.10 331.70,85.30 C332.10,87.50 332.50,89.68 332.90,91.30 C333.30,92.92 333.70,94.23 334.10,95.00 C334.50,95.77 335.10,95.75 335.30,95.90 L335.30,95.90 L308.70,95.90 Z" fill="#888888" stroke="none"/>
<path d="M308.70,95.90 C312.92,95.90 329.27,95.90 334.00,95.90 C338.73,95.90 335.98,96.05 337.10,95.90 C338.22,95.75 339.70,95.55 340.70,95.00 C341.70,94.45 342.38,93.82 343.10,92.60 C343.82,91.38 344.48,90.12 345.00,87.70 C345.52,85.28 345.80,81.72 346.20,78.10 C346.60,74.48 347.03,68.85 347.40,66.00 C347.77,63.15 348.10,62.10 348.40,61.00 C348.70,59.90 348.93,59.40 349.20,59.40 C349.47,59.40 349.77,59.90 350.00,61.00 C350.23,62.10 350.30,63.15 350.60,66.00 C350.90,68.85 351.40,74.48 351.80,78.10 C352.20,81.72 352.53,85.28 353.00,87.70 C353.47,90.12 353.93,91.38 354.60,92.60 C355.27,93.82 356.10,94.45 357.00,95.00 C357.90,95.55 356.73,95.75 360.00,95.90 C363.27,96.05 373.83,95.90 376.60,95.90" fill="none" stroke="#000" stroke-width="1.40" stroke-linejoin="round"/>
</g>
<line x1="308.70" y1="55.80" x2="308.70" y2="96.40" stroke="#666" stroke-width="1.20"/>
<clipPath id="c103"><rect x="379.40" y="56.30" width="67.60" height="40.50"/></clipPath>
<rect x="379.40" y="56.30" width="67.60" height="39.60" fill="none" stroke="#bdbdbd" stroke-width="1"/>
<g clip-path="url(#c103)">
<path d="M379.40,85.00 C379.57,84.85 379.93,84.85 380.40,84.10 C380.87,83.35 381.60,81.90 382.20,80.50 C382.80,79.10 383.40,77.70 384.00,75.70 C384.60,73.70 385.20,70.72 385.80,68.50 C386.40,66.28 387.03,64.02 387.60,62.40 C388.17,60.78 388.68,58.60 389.20,58.80 C389.72,59.00 390.25,62.40 390.70,63.60 C391.15,64.80 391.50,65.18 391.90,66.00 C392.30,66.82 392.70,66.48 393.10,68.50 C393.50,70.52 393.90,75.10 394.30,78.10 C394.70,81.10 395.10,84.08 395.50,86.50 C395.90,88.92 396.30,91.08 396.70,92.60 C397.10,94.12 397.52,95.05 397.90,95.60 C398.28,96.15 398.82,95.85 399.00,95.90 L399.00,95.90 L379.40,95.90 Z" fill="#959595" stroke="none"/>
<path d="M379.40,95.90 C382.58,95.90 394.82,96.05 398.50,95.90 C402.18,95.75 400.60,95.77 401.50,95.00 C402.40,94.23 403.23,93.12 403.90,91.30 C404.57,89.48 405.00,86.90 405.50,84.10 C406.00,81.30 406.47,77.52 406.90,74.50 C407.33,71.48 407.75,68.33 408.10,66.00 C408.45,63.67 408.70,61.70 409.00,60.50 C409.30,59.30 409.60,58.80 409.90,58.80 C410.20,58.80 410.50,59.30 410.80,60.50 C411.10,61.70 411.35,63.67 411.70,66.00 C412.05,68.33 412.45,71.48 412.90,74.50 C413.35,77.52 413.88,81.30 414.40,84.10 C414.92,86.90 415.33,89.58 416.00,91.30 C416.67,93.02 417.50,93.68 418.40,94.40 C419.30,95.12 420.10,95.35 421.40,95.60 C422.70,95.85 421.93,95.85 426.20,95.90 C430.47,95.95 443.53,95.90 447.00,95.90" fill="none" stroke="#000" stroke-width="1.60" stroke-linejoin="round"/>
</g>
<line x1="379.40" y1="55.80" x2="379.40" y2="96.40" stroke="#111" stroke-width="1.60"/>
<clipPath id="c110"><rect x="451.20" y="56.30" width="67.50" height="40.50"/></clipPath>
<rect x="451.20" y="56.30" width="67.50" height="39.60" fill="none" stroke="#bdbdbd" stroke-width="1"/>
<g clip-path="url(#c110)">
<path d="M452.50,95.90 C452.92,95.08 454.25,92.48 455.00,91.00 C455.75,89.52 456.33,88.50 457.00,87.00 C457.67,85.50 458.33,83.50 459.00,82.00 C459.67,80.50 460.42,79.50 461.00,78.00 C461.58,76.50 462.08,73.33 462.50,73.00 C462.92,72.67 463.08,76.17 463.50,76.00 C463.92,75.83 464.50,72.17 465.00,72.00 C465.50,71.83 466.08,75.33 466.50,75.00 C466.92,74.67 467.08,71.50 467.50,70.00 C467.92,68.50 468.43,66.98 469.00,66.00 C469.57,65.02 470.40,64.10 470.90,64.10 C471.40,64.10 471.65,64.68 472.00,66.00 C472.35,67.32 472.58,69.33 473.00,72.00 C473.42,74.67 474.00,79.00 474.50,82.00 C475.00,85.00 475.50,87.92 476.00,90.00 C476.50,92.08 477.00,93.52 477.50,94.50 C478.00,95.48 478.75,95.67 479.00,95.90 L479.00,95.90 L452.50,95.90 Z" fill="#555555" stroke="none"/>
<path d="M481.00,95.80 C481.50,95.33 483.17,94.47 484.00,93.00 C484.83,91.53 485.33,89.67 486.00,87.00 C486.67,84.33 487.42,80.33 488.00,77.00 C488.58,73.67 488.92,69.75 489.50,67.00 C490.08,64.25 490.92,61.00 491.50,60.50 C492.08,60.00 492.50,61.92 493.00,64.00 C493.50,66.08 494.00,69.83 494.50,73.00 C495.00,76.17 495.50,80.17 496.00,83.00 C496.50,85.83 497.00,88.08 497.50,90.00 C498.00,91.92 498.42,93.53 499.00,94.50 C499.58,95.47 500.67,95.58 501.00,95.80" fill="none" stroke="#222" stroke-width="1.1" stroke-dasharray="1.2,1.6"/>
<path d="M451.20,95.80 C455.67,95.80 472.70,95.97 478.00,95.80 C483.30,95.63 481.67,95.60 483.00,94.80 C484.33,94.00 485.17,92.80 486.00,91.00 C486.83,89.20 487.33,86.83 488.00,84.00 C488.67,81.17 489.33,77.17 490.00,74.00 C490.67,70.83 491.33,67.20 492.00,65.00 C492.67,62.80 493.42,61.13 494.00,60.80 C494.58,60.47 495.00,61.47 495.50,63.00 C496.00,64.53 496.50,67.67 497.00,70.00 C497.50,72.33 498.00,74.83 498.50,77.00 C499.00,79.17 499.42,81.17 500.00,83.00 C500.58,84.83 501.17,86.50 502.00,88.00 C502.83,89.50 503.83,90.87 505.00,92.00 C506.17,93.13 507.50,94.20 509.00,94.80 C510.50,95.40 512.38,95.43 514.00,95.60 C515.62,95.77 517.92,95.77 518.70,95.80" fill="none" stroke="#000" stroke-width="1.50" stroke-linejoin="round"/>
</g>
<line x1="451.20" y1="55.80" x2="451.20" y2="96.40" stroke="#111" stroke-width="1.90"/>
<clipPath id="c118"><rect x="308.70" y="98.80" width="67.90" height="40.70"/></clipPath>
<rect x="308.70" y="98.80" width="67.90" height="39.80" fill="none" stroke="#bdbdbd" stroke-width="1"/>
<g clip-path="url(#c118)">
<path d="M308.70,134.00 C309.05,133.72 309.83,133.68 310.80,132.30 C311.77,130.92 313.27,127.78 314.50,125.70 C315.73,123.62 317.10,121.50 318.20,119.80 C319.30,118.10 320.25,117.05 321.10,115.50 C321.95,113.95 322.62,111.72 323.30,110.50 C323.98,109.28 324.65,108.78 325.20,108.20 C325.75,107.62 326.22,106.87 326.60,107.00 C326.98,107.13 327.20,107.83 327.50,109.00 C327.80,110.17 328.02,111.95 328.40,114.00 C328.78,116.05 329.32,119.10 329.80,121.30 C330.28,123.50 330.80,125.25 331.30,127.20 C331.80,129.15 332.18,131.30 332.80,133.00 C333.42,134.70 334.30,136.47 335.00,137.40 C335.70,138.33 336.67,138.40 337.00,138.60 L337.00,138.60 L308.70,138.60 Z" fill="#7a7a7a" stroke="none"/>
<path d="M313.80,138.40 C314.83,138.25 317.97,137.90 320.00,137.50 C322.03,137.10 324.17,136.50 326.00,136.00 C327.83,135.50 329.63,135.00 331.00,134.50 C332.37,134.00 332.93,133.98 334.20,133.00 C335.47,132.02 337.13,130.80 338.60,128.60 C340.07,126.40 341.65,122.48 343.00,119.80 C344.35,117.12 345.73,114.32 346.70,112.50 C347.67,110.68 348.00,109.75 348.80,108.90 C349.60,108.05 350.77,107.05 351.50,107.40 C352.23,107.75 352.55,108.93 353.20,111.00 C353.85,113.07 354.67,117.10 355.40,119.80 C356.13,122.50 356.87,125.00 357.60,127.20 C358.33,129.40 359.07,131.55 359.80,133.00 C360.53,134.45 361.30,135.13 362.00,135.90 C362.70,136.67 363.00,137.20 364.00,137.60 C365.00,138.00 365.90,138.17 368.00,138.30 C370.10,138.43 375.17,138.38 376.60,138.40" fill="none" stroke="#222" stroke-width="1.1" stroke-dasharray="1.2,1.6"/>
<path d="M309.40,138.10 C310.62,137.73 314.52,136.63 316.70,135.90 C318.88,135.17 320.43,134.55 322.50,133.70 C324.57,132.85 327.27,131.53 329.10,130.80 C330.93,130.07 332.28,130.03 333.50,129.30 C334.72,128.57 335.43,127.37 336.40,126.40 C337.37,125.43 338.45,124.72 339.30,123.50 C340.15,122.28 340.77,120.32 341.50,119.10 C342.23,117.88 342.97,117.05 343.70,116.20 C344.43,115.35 345.28,114.48 345.90,114.00 C346.52,113.52 346.92,113.05 347.40,113.30 C347.88,113.55 348.20,114.42 348.80,115.50 C349.40,116.58 350.27,118.10 351.00,119.80 C351.73,121.50 352.47,123.75 353.20,125.70 C353.93,127.65 354.67,129.92 355.40,131.50 C356.13,133.08 356.75,134.22 357.60,135.20 C358.45,136.18 359.03,137.13 360.50,137.40 C361.97,137.67 364.82,136.87 366.40,136.80 C367.98,136.73 368.78,136.87 370.00,137.00 C371.22,137.13 372.60,137.43 373.70,137.60 C374.80,137.77 376.12,137.93 376.60,138.00" fill="none" stroke="#000" stroke-width="1.40" stroke-linejoin="round"/>
</g>
<line x1="308.70" y1="98.30" x2="308.70" y2="139.10" stroke="#111" stroke-width="1.60"/>
<clipPath id="c126"><rect x="379.40" y="98.80" width="67.60" height="40.70"/></clipPath>
<rect x="379.40" y="98.80" width="67.60" height="39.80" fill="none" stroke="#bdbdbd" stroke-width="1"/>
<g clip-path="url(#c126)">
<path d="M380.50,134.00 C381.05,133.47 382.88,131.88 383.80,130.80 C384.72,129.72 385.27,128.60 386.00,127.50 C386.73,126.40 387.48,125.95 388.20,124.20 C388.92,122.45 389.70,119.67 390.30,117.00 C390.90,114.33 391.25,110.90 391.80,108.20 C392.35,105.50 392.98,100.57 393.60,100.80 C394.22,101.03 395.07,106.18 395.50,109.60 C395.93,113.02 395.83,117.40 396.20,121.30 C396.57,125.20 397.22,130.32 397.70,133.00 C398.18,135.68 398.55,136.47 399.10,137.40 C399.65,138.33 400.68,138.40 401.00,138.60 L401.00,138.60 L380.50,138.60 Z" fill="#a0a0a0" stroke="none"/>
<path d="M379.40,138.40 C380.33,138.25 383.30,138.03 385.00,137.50 C386.70,136.97 388.10,136.45 389.60,135.20 C391.10,133.95 392.77,131.47 394.00,130.00 C395.23,128.53 396.03,127.37 397.00,126.40 C397.97,125.43 398.97,125.53 399.80,124.20 C400.63,122.87 401.27,120.35 402.00,118.40 C402.73,116.45 403.47,113.97 404.20,112.50 C404.93,111.03 405.67,110.82 406.40,109.60 C407.13,108.38 407.87,106.42 408.60,105.20 C409.33,103.98 410.07,102.90 410.80,102.30 C411.53,101.70 412.27,101.60 413.00,101.60 C413.73,101.60 414.47,102.30 415.20,102.30 C415.93,102.30 416.80,100.87 417.40,101.60 C418.00,102.33 418.20,105.37 418.80,106.70 C419.40,108.03 420.38,107.88 421.00,109.60 C421.62,111.32 422.00,114.57 422.50,117.00 C423.00,119.43 423.52,122.03 424.00,124.20 C424.48,126.37 424.80,128.05 425.40,130.00 C426.00,131.95 426.87,134.55 427.60,135.90 C428.33,137.25 426.57,137.65 429.80,138.10 C433.03,138.55 444.13,138.52 447.00,138.60" fill="none" stroke="#000" stroke-width="1.40" stroke-linejoin="round"/>
<path d="M381.00,138.60 C382.17,138.33 386.00,137.93 388.00,137.00 C390.00,136.07 391.50,134.42 393.00,133.00 C394.50,131.58 395.83,129.67 397.00,128.50 C398.17,127.33 399.00,127.25 400.00,126.00 C401.00,124.75 402.08,122.83 403.00,121.00 C403.92,119.17 404.67,117.00 405.50,115.00 C406.33,113.00 407.17,110.67 408.00,109.00 C408.83,107.33 409.75,106.00 410.50,105.00 C411.25,104.00 411.83,103.25 412.50,103.00 C413.17,102.75 413.83,103.58 414.50,103.50 C415.17,103.42 415.83,102.42 416.50,102.50 C417.17,102.58 417.92,102.92 418.50,104.00 C419.08,105.08 419.50,107.33 420.00,109.00 C420.50,110.67 421.00,112.00 421.50,114.00 C422.00,116.00 422.50,118.67 423.00,121.00 C423.50,123.33 424.00,126.00 424.50,128.00 C425.00,130.00 425.42,131.50 426.00,133.00 C426.58,134.50 427.17,136.07 428.00,137.00 C428.83,137.93 430.50,138.33 431.00,138.60" fill="none" stroke="#000" stroke-width="1.40" stroke-linejoin="round"/>
</g>
<line x1="379.40" y1="98.30" x2="379.40" y2="139.10" stroke="#111" stroke-width="1.60"/>
<clipPath id="c134"><rect x="451.20" y="98.80" width="67.50" height="40.70"/></clipPath>
<rect x="451.20" y="98.80" width="67.50" height="39.80" fill="none" stroke="#bdbdbd" stroke-width="1"/>
<g clip-path="url(#c134)">
<path d="M451.70,136.30 C452.42,135.58 454.58,133.90 456.00,132.00 C457.42,130.10 459.02,127.27 460.20,124.90 C461.38,122.53 462.27,119.93 463.10,117.80 C463.93,115.67 464.50,113.53 465.20,112.10 C465.90,110.67 466.52,109.87 467.30,109.20 C468.08,108.53 469.07,107.85 469.90,108.10 C470.73,108.35 471.67,109.33 472.30,110.70 C472.93,112.07 473.33,114.17 473.70,116.30 C474.07,118.43 474.13,121.12 474.50,123.50 C474.87,125.88 475.43,128.58 475.90,130.60 C476.37,132.62 476.58,134.42 477.30,135.60 C478.02,136.78 479.25,137.23 480.20,137.70 C481.15,138.17 482.53,138.28 483.00,138.40 L483.00,138.60 L451.70,138.60 Z" fill="#555555" stroke="none"/>
<path d="M455.00,138.40 C455.87,138.28 458.15,138.30 460.20,137.70 C462.25,137.10 464.92,135.75 467.30,134.80 C469.68,133.85 472.60,132.93 474.50,132.00 C476.40,131.07 477.52,130.15 478.70,129.20 C479.88,128.25 480.65,127.50 481.60,126.30 C482.55,125.10 483.45,123.42 484.40,122.00 C485.35,120.58 486.35,119.45 487.30,117.80 C488.25,116.15 489.40,113.28 490.10,112.10 C490.80,110.92 491.02,111.30 491.50,110.70 C491.98,110.10 492.40,109.22 493.00,108.50 C493.60,107.78 494.15,106.87 495.10,106.40 C496.05,105.93 497.63,105.47 498.70,105.70 C499.77,105.93 500.68,106.27 501.50,107.80 C502.32,109.33 502.88,112.28 503.60,114.90 C504.32,117.52 504.97,120.65 505.80,123.50 C506.63,126.35 507.65,129.75 508.60,132.00 C509.55,134.25 510.55,135.93 511.50,137.00 C512.45,138.07 513.83,138.17 514.30,138.40" fill="none" stroke="#222" stroke-width="1.1" stroke-dasharray="1.2,1.6"/>
<path d="M451.20,137.50 C451.83,137.08 453.70,135.67 455.00,135.00 C456.30,134.33 457.67,134.08 459.00,133.50 C460.33,132.92 461.83,132.25 463.00,131.50 C464.17,130.75 465.17,129.50 466.00,129.00 C466.83,128.50 467.33,128.67 468.00,128.50 C468.67,128.33 469.33,127.75 470.00,128.00 C470.67,128.25 471.33,129.83 472.00,130.00 C472.67,130.17 473.17,129.67 474.00,129.00 C474.83,128.33 476.00,127.33 477.00,126.00 C478.00,124.67 479.08,122.50 480.00,121.00 C480.92,119.50 481.83,118.33 482.50,117.00 C483.17,115.67 483.50,113.33 484.00,113.00 C484.50,112.67 485.00,115.50 485.50,115.00 C486.00,114.50 486.55,111.50 487.00,110.00 C487.45,108.50 487.87,106.83 488.20,106.00 C488.53,105.17 488.62,104.83 489.00,105.00 C489.38,105.17 490.00,106.58 490.50,107.00 C491.00,107.42 491.50,107.17 492.00,107.50 C492.50,107.83 493.00,108.25 493.50,109.00 C494.00,109.75 494.42,110.67 495.00,112.00 C495.58,113.33 496.33,115.33 497.00,117.00 C497.67,118.67 498.33,120.33 499.00,122.00 C499.67,123.67 500.33,125.33 501.00,127.00 C501.67,128.67 502.33,130.58 503.00,132.00 C503.67,133.42 504.25,134.58 505.00,135.50 C505.75,136.42 506.50,137.02 507.50,137.50 C508.50,137.98 509.13,138.25 511.00,138.40 C512.87,138.55 517.42,138.40 518.70,138.40" fill="none" stroke="#000" stroke-width="1.40" stroke-linejoin="round"/>
</g>
<line x1="451.20" y1="98.30" x2="451.20" y2="139.10" stroke="#111" stroke-width="1.90"/>
<text x="-0.90" y="12.60" font-size="18.5" text-anchor="start" stroke="#000" stroke-width="0.5">A</text>
<text x="268.90" y="13.10" font-size="18.2" text-anchor="start" stroke="#000" stroke-width="0.5">B</text>
<text x="77.90" y="9.60" font-size="11" text-anchor="middle" font-weight="bold" stroke="#000" stroke-width="0.1">&lt; d41</text>
<text x="154.70" y="9.60" font-size="11" text-anchor="middle" font-weight="bold" stroke="#000" stroke-width="0.1">d41 - 65</text>
<text x="227.70" y="9.60" font-size="11" text-anchor="middle" font-weight="bold" stroke="#000" stroke-width="0.1">&gt; d65</text>
<text x="347.00" y="8.70" font-size="11" text-anchor="middle" font-weight="bold" stroke="#000" stroke-width="0.1">&lt; d41</text>
<text x="421.00" y="8.70" font-size="11" text-anchor="middle" font-weight="bold" stroke="#000" stroke-width="0.1">d41 - 65</text>
<text x="495.00" y="8.70" font-size="11" text-anchor="middle" font-weight="bold" stroke="#000" stroke-width="0.1">&gt; d65</text>
<text x="37.30" y="38.00" font-size="11.2" text-anchor="end" font-weight="bold" stroke="#000" stroke-width="0.1">CD155</text>
<text x="38.30" y="81.30" font-size="11.2" text-anchor="end" font-weight="bold" stroke="#000" stroke-width="0.1">CD112</text>
<text x="38.20" y="124.20" font-size="11" text-anchor="end" font-weight="bold" stroke="#000" stroke-width="0.1">ICAM-1</text>
<text x="305.60" y="39.10" font-size="11.4" text-anchor="end" font-weight="bold" stroke="#000" stroke-width="0.1">CD4<tspan font-size="6.5" dy="-4.6">+</tspan></text>
<text x="305.40" y="80.00" font-size="11.4" text-anchor="end" font-weight="bold" stroke="#000" stroke-width="0.1">CD8<tspan font-size="6.5" dy="-4.6">+</tspan></text>
<text x="305.80" y="124.30" font-size="11.2" text-anchor="end" font-weight="bold" stroke="#000" stroke-width="0.1">NK1.1<tspan font-size="6.5" dy="-4.6">+</tspan></text>
<text x="308.20" y="150.50" font-size="10.8" text-anchor="start" font-weight="bold" stroke="#000" stroke-width="0.2">DNAM-1</text>
<line x1="361.5" y1="147.6" x2="511" y2="147.6" stroke="#000" stroke-width="1.3"/>
<path d="M509.5,144.9 L518,147.6 L509.5,150.3 Z" fill="#000"/>
<text x="-0.40" y="184.50" font-size="18.2" text-anchor="start" stroke="#000" stroke-width="0.5">C</text>
<line x1="40.2" y1="328.40" x2="44.30" y2="328.40" stroke="#000" stroke-width="1.2"/>
<text x="37.60" y="332.50" font-size="11.2" text-anchor="end" font-weight="normal" stroke="#000" stroke-width="0.65">0</text>
<line x1="40.2" y1="298.20" x2="44.30" y2="298.20" stroke="#000" stroke-width="1.2"/>
<text x="37.60" y="302.30" font-size="11.2" text-anchor="end" font-weight="normal" stroke="#000" stroke-width="0.65">20</text>
<line x1="40.2" y1="268.00" x2="44.30" y2="268.00" stroke="#000" stroke-width="1.2"/>
<text x="37.60" y="272.10" font-size="11.2" text-anchor="end" font-weight="normal" stroke="#000" stroke-width="0.65">40</text>
<line x1="40.2" y1="237.80" x2="44.30" y2="237.80" stroke="#000" stroke-width="1.2"/>
<text x="37.60" y="241.90" font-size="11.2" text-anchor="end" font-weight="normal" stroke="#000" stroke-width="0.65">60</text>
<line x1="40.2" y1="207.60" x2="44.30" y2="207.60" stroke="#000" stroke-width="1.2"/>
<text x="37.60" y="211.70" font-size="11.2" text-anchor="end" font-weight="normal" stroke="#000" stroke-width="0.65">80</text>
<line x1="40.2" y1="177.40" x2="44.30" y2="177.40" stroke="#000" stroke-width="1.2"/>
<text x="37.60" y="181.50" font-size="11.2" text-anchor="end" font-weight="normal" stroke="#000" stroke-width="0.65">100</text>
<line x1="41.6" y1="313.30" x2="44.30" y2="313.30" stroke="#000" stroke-width="1.1"/>
<line x1="41.6" y1="283.10" x2="44.30" y2="283.10" stroke="#000" stroke-width="1.1"/>
<line x1="41.6" y1="252.90" x2="44.30" y2="252.90" stroke="#000" stroke-width="1.1"/>
<line x1="41.6" y1="222.70" x2="44.30" y2="222.70" stroke="#000" stroke-width="1.1"/>
<line x1="41.6" y1="192.50" x2="44.30" y2="192.50" stroke="#000" stroke-width="1.1"/>
<text transform="translate(12.3,305.0) rotate(-90)" font-size="12.9" font-weight="normal" stroke="#000" stroke-width="0.45">% B220<tspan font-size="8.3" dy="-5">low</tspan><tspan dy="5"> in blood</tspan></text>
<circle cx="60.85" cy="196.00" r="4.05" fill="#000"/>
<circle cx="60.85" cy="202.80" r="4.05" fill="#000"/>
<circle cx="60.85" cy="206.40" r="4.05" fill="#000"/>
<circle cx="60.85" cy="210.50" r="4.05" fill="#000"/>
<circle cx="60.85" cy="213.50" r="4.05" fill="#000"/>
<circle cx="60.85" cy="217.00" r="4.05" fill="#000"/>
<circle cx="60.85" cy="235.80" r="4.05" fill="#000"/>
<rect x="49.40" y="210.60" width="22.90" height="117.80" fill="rgb(205,205,205)" fill-opacity="0.5" stroke="#000" stroke-width="1.7"/>
<circle cx="93.50" cy="228.00" r="4.05" fill="#000"/>
<circle cx="93.50" cy="236.90" r="4.05" fill="#000"/>
<circle cx="93.50" cy="245.00" r="4.05" fill="#000"/>
<circle cx="93.50" cy="256.50" r="4.05" fill="#000"/>
<circle cx="93.50" cy="262.00" r="4.05" fill="#000"/>
<circle cx="93.50" cy="267.20" r="4.05" fill="#000"/>
<rect x="82.50" y="252.00" width="22.00" height="76.40" fill="rgb(205,205,205)" fill-opacity="0.5" stroke="#000" stroke-width="1.7"/>
<circle cx="125.85" cy="258.80" r="4.05" fill="#000"/>
<circle cx="125.85" cy="263.20" r="4.05" fill="#000"/>
<circle cx="125.85" cy="267.60" r="4.05" fill="#000"/>
<circle cx="125.85" cy="272.00" r="4.05" fill="#000"/>
<circle cx="125.85" cy="278.60" r="4.05" fill="#000"/>
<circle cx="125.85" cy="285.20" r="4.05" fill="#000"/>
<circle cx="125.85" cy="316.00" r="4.05" fill="#000"/>
<rect x="114.50" y="275.80" width="22.70" height="52.60" fill="rgb(205,205,205)" fill-opacity="0.5" stroke="#000" stroke-width="1.7"/>
<rect x="157.50" y="213.00" width="23.00" height="115.40" fill="none" stroke="#000" stroke-width="1.7"/>
<circle cx="169.30" cy="199.60" r="4.0" fill="none" stroke="#000" stroke-width="1.1"/>
<circle cx="169.30" cy="206.30" r="4.0" fill="none" stroke="#000" stroke-width="1.1"/>
<circle cx="169.30" cy="210.50" r="4.0" fill="none" stroke="#000" stroke-width="1.1"/>
<circle cx="169.30" cy="214.50" r="4.0" fill="none" stroke="#000" stroke-width="1.1"/>
<circle cx="169.30" cy="224.60" r="4.0" fill="none" stroke="#000" stroke-width="1.1"/>
<circle cx="169.30" cy="238.90" r="4.0" fill="none" stroke="#000" stroke-width="1.1"/>
<rect x="189.90" y="238.30" width="22.60" height="90.10" fill="none" stroke="#000" stroke-width="1.7"/>
<circle cx="201.50" cy="222.20" r="4.0" fill="none" stroke="#000" stroke-width="1.1"/>
<circle cx="201.50" cy="231.00" r="4.0" fill="none" stroke="#000" stroke-width="1.1"/>
<circle cx="201.50" cy="235.50" r="4.0" fill="none" stroke="#000" stroke-width="1.1"/>
<circle cx="201.50" cy="243.50" r="4.0" fill="none" stroke="#000" stroke-width="1.1"/>
<circle cx="201.50" cy="251.00" r="4.0" fill="none" stroke="#000" stroke-width="1.1"/>
<circle cx="201.50" cy="260.70" r="4.0" fill="none" stroke="#000" stroke-width="1.1"/>
<rect x="222.70" y="252.30" width="22.10" height="76.10" fill="none" stroke="#000" stroke-width="1.7"/>
<circle cx="234.05" cy="232.20" r="4.0" fill="none" stroke="#000" stroke-width="1.1"/>
<circle cx="234.05" cy="240.00" r="4.0" fill="none" stroke="#000" stroke-width="1.1"/>
<circle cx="234.05" cy="249.40" r="4.0" fill="none" stroke="#000" stroke-width="1.1"/>
<circle cx="234.05" cy="254.30" r="4.0" fill="none" stroke="#000" stroke-width="1.1"/>
<circle cx="234.05" cy="264.20" r="4.0" fill="none" stroke="#000" stroke-width="1.1"/>
<circle cx="234.05" cy="272.80" r="4.0" fill="none" stroke="#000" stroke-width="1.1"/>
<path d="M44.30,177.30 L250.70,177.30 L250.70,328.40 L44.30,328.40 Z" fill="none" stroke="#000" stroke-width="1.4"/>
<line x1="60.85" y1="328.40" x2="60.85" y2="332.4" stroke="#000" stroke-width="1.1"/>
<text x="60.35" y="346.00" font-size="11.2" text-anchor="middle" font-weight="normal" stroke="#000" stroke-width="0.8">d34</text>
<line x1="93.50" y1="328.40" x2="93.50" y2="332.4" stroke="#000" stroke-width="1.1"/>
<text x="93.00" y="346.00" font-size="11.2" text-anchor="middle" font-weight="normal" stroke="#000" stroke-width="0.8">d41</text>
<line x1="125.85" y1="328.40" x2="125.85" y2="332.4" stroke="#000" stroke-width="1.1"/>
<text x="125.35" y="346.00" font-size="11.2" text-anchor="middle" font-weight="normal" stroke="#000" stroke-width="0.8">d48</text>
<line x1="169.00" y1="328.40" x2="169.00" y2="332.4" stroke="#000" stroke-width="1.1"/>
<text x="168.50" y="346.00" font-size="11.2" text-anchor="middle" font-weight="normal" stroke="#000" stroke-width="0.8">d34</text>
<line x1="201.20" y1="328.40" x2="201.20" y2="332.4" stroke="#000" stroke-width="1.1"/>
<text x="200.70" y="346.00" font-size="11.2" text-anchor="middle" font-weight="normal" stroke="#000" stroke-width="0.8">d41</text>
<line x1="233.75" y1="328.40" x2="233.75" y2="332.4" stroke="#000" stroke-width="1.1"/>
<text x="233.25" y="346.00" font-size="11.2" text-anchor="middle" font-weight="normal" stroke="#000" stroke-width="0.8">d48</text>
<line x1="83.3" y1="351.2" x2="134.6" y2="351.2" stroke="#000" stroke-width="1.3"/>
<text x="109.30" y="361.50" font-size="11.2" text-anchor="middle" font-weight="normal" stroke="#000" stroke-width="0.8">isotype ctrl</text>
<line x1="191" y1="351.3" x2="241.6" y2="351.3" stroke="#000" stroke-width="1"/>
<text x="217.00" y="362.30" font-size="11.2" text-anchor="middle" font-weight="normal" stroke="#000" stroke-width="0.8">&#945;-DNAM-1</text>
<path d="M125.8,194.3 L125.8,191.3 L232.3,191.3 L232.3,194.3" fill="none" stroke="#777" stroke-width="1"/>
<text x="178.70" y="189.00" font-size="11.2" text-anchor="middle" font-weight="normal" stroke="#000" stroke-width="0.8">p &lt; 0.01</text>
<text x="268.90" y="184.50" font-size="18.2" text-anchor="start" stroke="#000" stroke-width="0.5">D</text>
<line x1="309.50" y1="191.70" x2="309.50" y2="317.60" stroke="#000" stroke-width="1.1"/>
<line x1="309.50" y1="317.60" x2="517" y2="317.60" stroke="#000" stroke-width="1.1"/>
<line x1="305.8" y1="317.60" x2="309.50" y2="317.60" stroke="#000" stroke-width="1.2"/>
<text x="304.50" y="321.70" font-size="11.2" text-anchor="end" font-weight="normal" stroke="#000" stroke-width="0.65">0</text>
<line x1="305.8" y1="275.80" x2="309.50" y2="275.80" stroke="#000" stroke-width="1.2"/>
<text x="304.50" y="279.90" font-size="11.2" text-anchor="end" font-weight="normal" stroke="#000" stroke-width="0.65">4</text>
<line x1="305.8" y1="234.00" x2="309.50" y2="234.00" stroke="#000" stroke-width="1.2"/>
<text x="304.50" y="238.10" font-size="11.2" text-anchor="end" font-weight="normal" stroke="#000" stroke-width="0.65">8</text>
<line x1="305.8" y1="192.20" x2="309.50" y2="192.20" stroke="#000" stroke-width="1.2"/>
<text x="304.50" y="196.30" font-size="11.2" text-anchor="end" font-weight="normal" stroke="#000" stroke-width="0.65">12</text>
<text transform="translate(281.0,303.6) rotate(-90)" font-size="12.6" font-weight="normal" stroke="#000" stroke-width="0.55"># B220<tspan font-size="8.3" dy="-5">low</tspan><tspan dy="5" font-size="13.2" stroke-width="0.3"> (10</tspan><tspan font-size="8" dy="-5" stroke-width="0.3">3</tspan><tspan dy="5" font-size="13.2" stroke-width="0.3">/&#181;l)</tspan></text>
<line x1="326.90" y1="317.60" x2="326.90" y2="322" stroke="#000" stroke-width="1.1"/>
<text x="326.90" y="344.80" font-size="11.2" text-anchor="middle" font-weight="normal" stroke="#000" stroke-width="0.55">d34</text>
<line x1="361.50" y1="317.60" x2="361.50" y2="322" stroke="#000" stroke-width="1.1"/>
<text x="361.50" y="344.80" font-size="11.2" text-anchor="middle" font-weight="normal" stroke="#000" stroke-width="0.55">d41</text>
<line x1="396.10" y1="317.60" x2="396.10" y2="322" stroke="#000" stroke-width="1.1"/>
<text x="396.10" y="344.80" font-size="11.2" text-anchor="middle" font-weight="normal" stroke="#000" stroke-width="0.55">d48</text>
<line x1="430.70" y1="317.60" x2="430.70" y2="322" stroke="#000" stroke-width="1.1"/>
<text x="430.70" y="344.80" font-size="11.2" text-anchor="middle" font-weight="normal" stroke="#000" stroke-width="0.55">d34</text>
<line x1="465.10" y1="317.60" x2="465.10" y2="322" stroke="#000" stroke-width="1.1"/>
<text x="465.10" y="344.80" font-size="11.2" text-anchor="middle" font-weight="normal" stroke="#000" stroke-width="0.55">d41</text>
<line x1="499.80" y1="317.60" x2="499.80" y2="322" stroke="#000" stroke-width="1.1"/>
<text x="499.80" y="344.80" font-size="11.2" text-anchor="middle" font-weight="normal" stroke="#000" stroke-width="0.55">d48</text>
<line x1="353.6" y1="352.2" x2="405.2" y2="352.2" stroke="#000" stroke-width="1"/>
<text x="380.80" y="361.80" font-size="11.2" text-anchor="middle" font-weight="normal" stroke="#000" stroke-width="0.55">isotype ctrl</text>
<line x1="459.8" y1="352.2" x2="510" y2="352.2" stroke="#000" stroke-width="1"/>
<text x="482.30" y="362.00" font-size="11.2" text-anchor="middle" font-weight="normal" stroke="#000" stroke-width="0.55">&#945;-DNAM-1</text>
<circle cx="332.90" cy="232.10" r="4.3" fill="#000"/>
<circle cx="321.40" cy="243.00" r="4.3" fill="#000"/>
<circle cx="321.40" cy="256.00" r="4.3" fill="#000"/>
<circle cx="332.90" cy="262.30" r="4.3" fill="#000"/>
<circle cx="327.20" cy="288.20" r="4.3" fill="#000"/>
<circle cx="361.50" cy="291.20" r="4.3" fill="#000"/>
<circle cx="355.40" cy="298.00" r="4.3" fill="#000"/>
<circle cx="361.50" cy="307.30" r="4.3" fill="#000"/>
<circle cx="367.70" cy="303.50" r="4.3" fill="#000"/>
<circle cx="360.80" cy="302.70" r="4.3" fill="#000"/>
<circle cx="390.00" cy="295.80" r="4.3" fill="#000"/>
<circle cx="401.50" cy="300.40" r="4.3" fill="#000"/>
<circle cx="396.20" cy="309.60" r="4.3" fill="#000"/>
<circle cx="393.80" cy="304.20" r="4.3" fill="#000"/>
<circle cx="399.20" cy="305.80" r="4.3" fill="#000"/>
<circle cx="435.90" cy="205.10" r="3.95" fill="none" stroke="#000" stroke-width="1.6"/>
<circle cx="425.00" cy="214.60" r="3.95" fill="none" stroke="#000" stroke-width="1.6"/>
<circle cx="430.20" cy="248.30" r="3.95" fill="none" stroke="#000" stroke-width="1.6"/>
<circle cx="425.00" cy="256.90" r="3.95" fill="none" stroke="#000" stroke-width="1.6"/>
<circle cx="430.20" cy="262.70" r="3.95" fill="none" stroke="#000" stroke-width="1.6"/>
<circle cx="435.90" cy="260.70" r="3.95" fill="none" stroke="#000" stroke-width="1.6"/>
<circle cx="464.70" cy="227.30" r="3.95" fill="none" stroke="#000" stroke-width="1.6"/>
<circle cx="464.70" cy="242.00" r="3.95" fill="none" stroke="#000" stroke-width="1.6"/>
<circle cx="470.50" cy="281.40" r="3.95" fill="none" stroke="#000" stroke-width="1.6"/>
<circle cx="459.00" cy="290.60" r="3.95" fill="none" stroke="#000" stroke-width="1.6"/>
<circle cx="504.80" cy="275.90" r="3.95" fill="none" stroke="#000" stroke-width="1.6"/>
<circle cx="494.40" cy="285.20" r="3.95" fill="none" stroke="#000" stroke-width="1.6"/>
<circle cx="499.30" cy="287.00" r="3.95" fill="none" stroke="#000" stroke-width="1.6"/>
<circle cx="494.40" cy="296.70" r="3.95" fill="none" stroke="#000" stroke-width="1.6"/>
<circle cx="505.60" cy="300.00" r="3.95" fill="none" stroke="#000" stroke-width="1.6"/>
<circle cx="499.30" cy="302.20" r="3.95" fill="none" stroke="#000" stroke-width="1.6"/>
<line x1="315.70" y1="256.60" x2="338.70" y2="256.60" stroke="#000" stroke-width="1.5"/>
<line x1="327.20" y1="246.80" x2="327.20" y2="265.50" stroke="#000" stroke-width="1.3"/>
<line x1="321.70" y1="246.80" x2="332.70" y2="246.80" stroke="#000" stroke-width="1.3"/>
<line x1="321.70" y1="265.50" x2="332.70" y2="265.50" stroke="#000" stroke-width="1.3"/>
<line x1="350.10" y1="300.00" x2="373.10" y2="300.00" stroke="#000" stroke-width="1.5"/>
<line x1="361.60" y1="298.20" x2="361.60" y2="302.00" stroke="#000" stroke-width="1.3"/>
<line x1="356.10" y1="298.20" x2="367.10" y2="298.20" stroke="#000" stroke-width="1.3"/>
<line x1="356.10" y1="302.00" x2="367.10" y2="302.00" stroke="#000" stroke-width="1.3"/>
<line x1="384.70" y1="302.70" x2="407.70" y2="302.70" stroke="#000" stroke-width="1.5"/>
<line x1="396.20" y1="301.50" x2="396.20" y2="304.00" stroke="#000" stroke-width="1.3"/>
<line x1="390.70" y1="301.50" x2="401.70" y2="301.50" stroke="#000" stroke-width="1.3"/>
<line x1="390.70" y1="304.00" x2="401.70" y2="304.00" stroke="#000" stroke-width="1.3"/>
<line x1="419.00" y1="241.10" x2="442.00" y2="241.10" stroke="#000" stroke-width="1.5"/>
<line x1="430.50" y1="231.60" x2="430.50" y2="251.20" stroke="#000" stroke-width="1.3"/>
<line x1="425.00" y1="231.60" x2="436.00" y2="231.60" stroke="#000" stroke-width="1.3"/>
<line x1="425.00" y1="251.20" x2="436.00" y2="251.20" stroke="#000" stroke-width="1.3"/>
<line x1="453.70" y1="260.70" x2="476.70" y2="260.70" stroke="#000" stroke-width="1.5"/>
<line x1="465.20" y1="245.40" x2="465.20" y2="276.20" stroke="#000" stroke-width="1.3"/>
<line x1="459.70" y1="245.40" x2="470.70" y2="245.40" stroke="#000" stroke-width="1.3"/>
<line x1="459.70" y1="276.20" x2="470.70" y2="276.20" stroke="#000" stroke-width="1.3"/>
<line x1="487.80" y1="290.70" x2="510.80" y2="290.70" stroke="#000" stroke-width="1.5"/>
<line x1="499.30" y1="287.50" x2="499.30" y2="294.00" stroke="#000" stroke-width="1.3"/>
<line x1="493.80" y1="287.50" x2="504.80" y2="287.50" stroke="#000" stroke-width="1.3"/>
<line x1="493.80" y1="294.00" x2="504.80" y2="294.00" stroke="#000" stroke-width="1.3"/>
<path d="M395.3,187.9 L395.3,183.6 L499.9,183.6 L499.9,187.9" fill="none" stroke="#000" stroke-width="1.3"/>
<text x="447.70" y="180.50" font-size="11.2" text-anchor="middle" font-weight="normal" stroke="#000" stroke-width="0.55">p &lt; 0.05</text>
<path d="M362.8,203.6 L362.8,199.2 L463.9,199.2 L463.9,203.6" fill="none" stroke="#000" stroke-width="1.3"/>
<text x="414.00" y="196.30" font-size="11.2" text-anchor="middle" font-weight="normal" stroke="#000" stroke-width="0.55">p &lt; 0.05</text></svg>
</body></html>
